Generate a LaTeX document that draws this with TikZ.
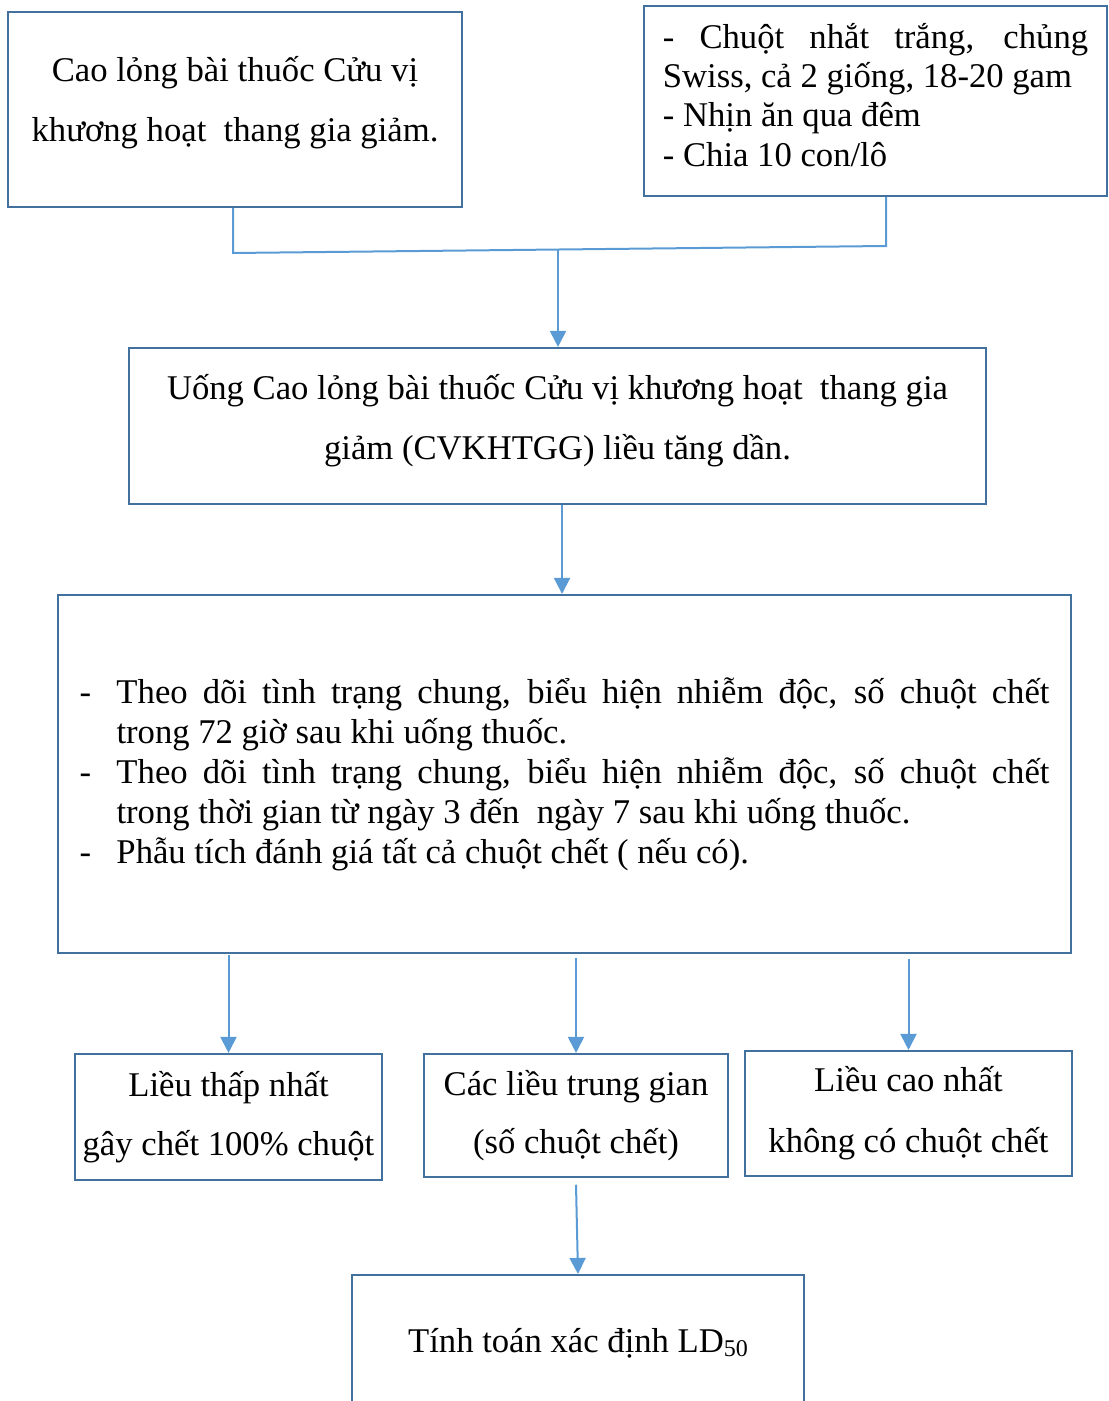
\documentclass[tikz,border=0pt]{standalone}
\usepackage{fontspec}
\setmainfont{Liberation Serif}
\usetikzlibrary{arrows.meta,calc}
\definecolor{boxblue}{HTML}{41719C}
\definecolor{linkblue}{HTML}{5B9BD5}
\tikzset{
  box/.style={draw=boxblue, line width=1.6pt, rectangle, inner sep=0pt, align=center,
    font=\fontsize{26pt}{45pt}\selectfont},
  link/.style={draw=linkblue, line width=1.5pt},
  arr/.style={link, -{Triangle[width=12pt,length=12pt]}},
}
\begin{document}
\begin{tikzpicture}[x=0.75pt,y=-0.75pt]
\useasboundingbox (0,0) rectangle (1108,1401);

\node[box, minimum width=340.5pt, minimum height=146.25pt] (a) at (235,109.5)
  {Cao lỏng bài thuốc Cửu vị\\khương hoạt~ thang gia giảm.\rule[-16pt]{0pt}{16pt}};

\node[box, minimum width=347.25pt, minimum height=142.5pt, text width=319pt, align=justify,
  font=\fontsize{26pt}{29.5pt}\selectfont] (b) at (875.5,101)
  {- Chuột nhắt trắng, chủng\linebreak Swiss, cả 2 giống, 18-20 gam\par
   - Nhịn ăn qua đêm\par
   - Chia 10 con/lô\rule[-9.7pt]{0pt}{9.7pt}};

\node[box, minimum width=642.75pt, minimum height=117pt] (c) at (557.5,426)
  {Uống Cao lỏng bài thuốc Cửu vị khương hoạt~ thang gia\\giảm (CVKHTGG) liều tăng dần.\rule[-13pt]{0pt}{13pt}};

\node[box, minimum width=759.75pt, minimum height=268.5pt, text width=727.5pt, align=justify,
  font=\fontsize{26pt}{30pt}\selectfont] (d) at (564.5,774)
  {\hangindent=27.75pt\hangafter=1\noindent\makebox[27.75pt][l]{-}Theo dõi tình trạng chung, biểu hiện nhiễm độc, số chuột chết\linebreak trong 72 giờ sau khi uống thuốc.\par
   \hangindent=27.75pt\hangafter=1\noindent\makebox[27.75pt][l]{-}Theo dõi tình trạng chung, biểu hiện nhiễm độc, số chuột chết\linebreak trong thời gian từ ngày 3 đến~ ngày 7 sau khi uống thuốc.\par
   \hangindent=27.75pt\hangafter=1\noindent\makebox[27.75pt][l]{-}Phẫu tích đánh giá tất cả chuột chết ( nếu có).};

\node[box, minimum width=230.25pt, minimum height=94.5pt, font=\fontsize{26pt}{44pt}\selectfont] (e) at (228.5,1117)
  {Liều thấp nhất\\gây chết 100\% chuột};
\node[box, minimum width=228pt, minimum height=92.25pt, font=\fontsize{26pt}{44pt}\selectfont] (f) at (576,1115.5)
  {Các liều trung gian\\(số chuột chết)};
\node[box, minimum width=245.25pt, minimum height=93.75pt, font=\fontsize{26pt}{46pt}\selectfont] (g) at (908.5,1113.5)
  {Liều cao nhất\\không có chuột chết};

\node[box, minimum width=339pt, minimum height=102pt] (h) at (578,1343)
  {Tính toán xác định LD\raisebox{-0.25ex}{\fontsize{18pt}{18pt}\selectfont 50}};

% connectors
\coordinate (j1) at (233,253);
\coordinate (j2) at (886,246);
\coordinate (m) at (558,250.5);
\draw[link] (a.south -| j1) -- (j1) -- (j2) -- (j2 |- b.south);
\draw[arr] (m) -- (m |- c.north);
\draw[arr] ([xshift=3.4pt]c.south) -- ([xshift=3.4pt]c.south |- d.north);
\draw[arr] ([yshift=-1pt]d.south -| e.north) -- (e.north);
\draw[arr] ([yshift=-3pt]d.south -| f.north) -- (f.north);
\draw[arr] ([yshift=-4pt]d.south -| g.north) -- (g.north);
\draw[arr] ([yshift=-5pt]f.south) -- (h.north);
\end{tikzpicture}
\end{document}
